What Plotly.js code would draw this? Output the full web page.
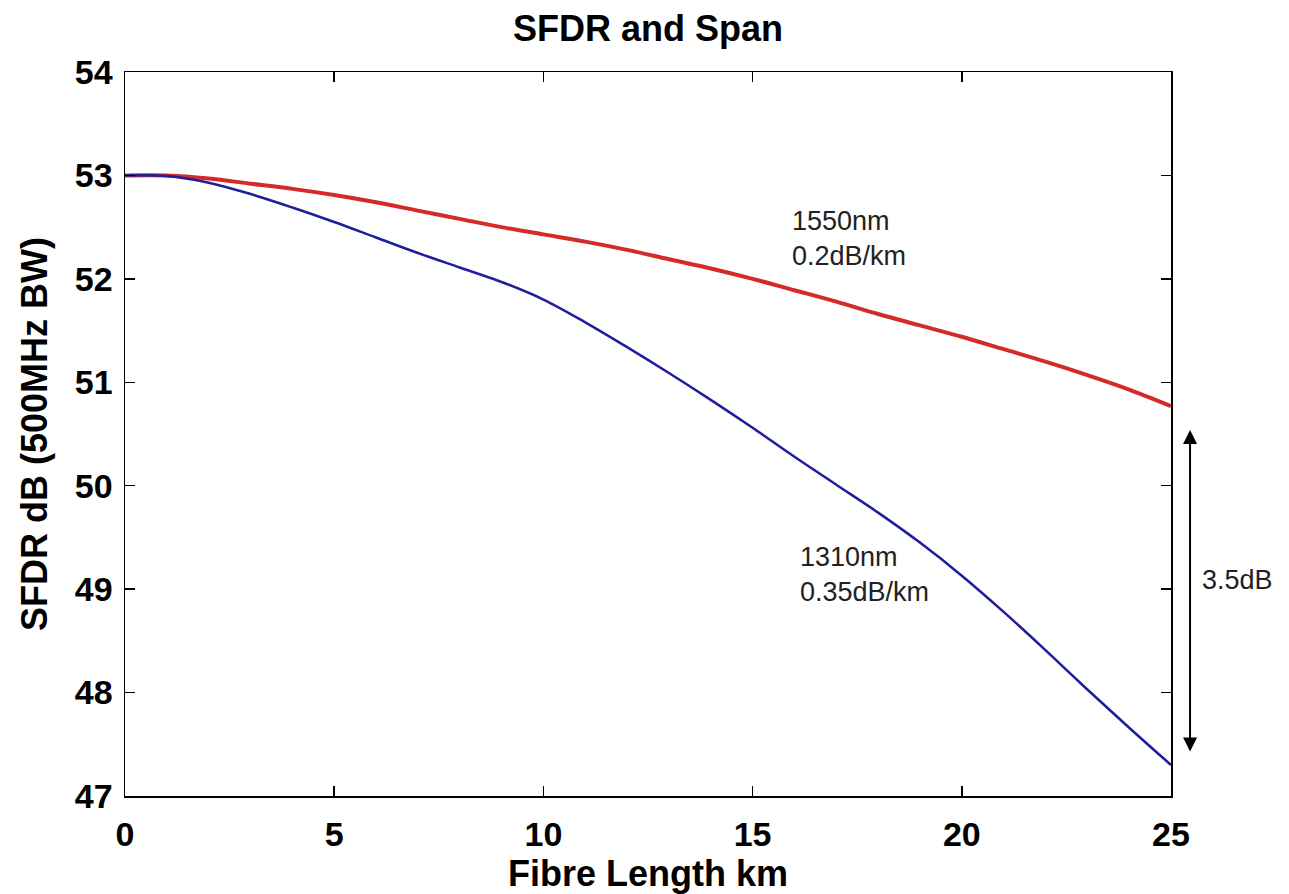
<!DOCTYPE html>
<html>
<head>
<meta charset="utf-8">
<script src="https://cdn.plot.ly/plotly-3.0.1.min.js"></script>
<style>html,body{margin:0;padding:0;background:#fff;}#chart{width:1289px;height:894px;}</style>
</head>
<body>
<div id="chart"></div>
<script>
const fibreLength = [0,1,2,3,4,5,6,7,8,9,10,11,12,13,14,15,16,17,18,19,20,21,22,23,24,25];
const sfdr1550 = [53.0,53.0,52.97,52.92,52.87,52.81,52.74,52.66,52.58,52.5,52.43,52.36,52.28,52.19,52.1,52.0,51.89,51.78,51.66,51.55,51.44,51.32,51.2,51.07,50.93,50.77];
const sfdr1310 = [53.0,52.995,52.93,52.82,52.69,52.55,52.4,52.25,52.11,51.97,51.8,51.58,51.34,51.09,50.83,50.56,50.28,50.01,49.74,49.45,49.13,48.78,48.41,48.03,47.66,47.3];
const xTicks = [0,5,10,15,20,25];
const yTicks = [47,48,49,50,51,52,53,54];

const boldFont = {family: 'Liberation Sans, Arial, sans-serif', size: 34, color: '#000', weight: 'bold'};
const titleFont = {family: 'Liberation Sans, Arial, sans-serif', size: 36, color: '#000', weight: 'bold'};
const noteFont = {family: 'Liberation Sans, Arial, sans-serif', size: 27, color: '#222'};

const traces = [
  {x: fibreLength, y: sfdr1550, mode: 'lines', line: {color: '#d42a2a', width: 4, shape: 'spline'}, name: '1550nm'},
  {x: fibreLength, y: sfdr1310, mode: 'lines', line: {color: '#1e1e9c', width: 2.5, shape: 'spline'}, name: '1310nm'}
];

const layout = {
  width: 1289, height: 894,
  margin: {l: 125, r: 118, t: 72, b: 98},
  paper_bgcolor: '#fff', plot_bgcolor: '#fff',
  showlegend: false,
  title: {text: 'SFDR and Span', font: titleFont, x: 0.5, xref: 'paper', xanchor: 'center', y: 0.968, yanchor: 'middle'},
  xaxis: {
    range: [0, 25], tickvals: xTicks, ticktext: xTicks.map(String),
    showgrid: false, zeroline: false, showline: true, linecolor: '#000', linewidth: 1.5,
    mirror: 'ticks', ticks: 'inside', ticklen: 10, tickwidth: 1.5, tickcolor: '#000',
    tickfont: boldFont, ticklabelstandoff: 8,
    title: {text: 'Fibre Length km', font: titleFont, standoff: 2}
  },
  yaxis: {
    range: [47, 54], tickvals: yTicks, ticktext: yTicks.map(String),
    showgrid: false, zeroline: false, showline: true, linecolor: '#000', linewidth: 1.5,
    mirror: 'ticks', ticks: 'inside', ticklen: 10, tickwidth: 1.5, tickcolor: '#000',
    tickfont: boldFont, ticklabelstandoff: 4,
    title: {text: 'SFDR dB (500MHz BW)', font: titleFont, standoff: 16}
  },
  annotations: [
    {xref: 'x', yref: 'y', x: 15.89, y: 52.395, xanchor: 'left', yanchor: 'middle', align: 'left',
     text: '1550nm<br>0.2dB/km', showarrow: false, font: noteFont},
    {xref: 'x', yref: 'y', x: 16.09, y: 49.137, xanchor: 'left', yanchor: 'middle', align: 'left',
     text: '1310nm<br>0.35dB/km', showarrow: false, font: noteFont},
    {xref: 'paper', yref: 'paper', x: 1.0277, y: 0.2983, xanchor: 'left', yanchor: 'middle',
     text: '3.5dB', showarrow: false, font: noteFont},
    {xref: 'paper', yref: 'paper', x: 1.0182, y: 0.5055, ax: 0, ay: 323, text: '',
     showarrow: true, arrowhead: 2, arrowside: 'end+start', arrowsize: 1.4, arrowwidth: 2, arrowcolor: '#000', standoff: 0, startstandoff: 0}
  ]
};

Plotly.newPlot('chart', traces, layout, {displayModeBar: false, staticPlot: true});
</script>
</body>
</html>
